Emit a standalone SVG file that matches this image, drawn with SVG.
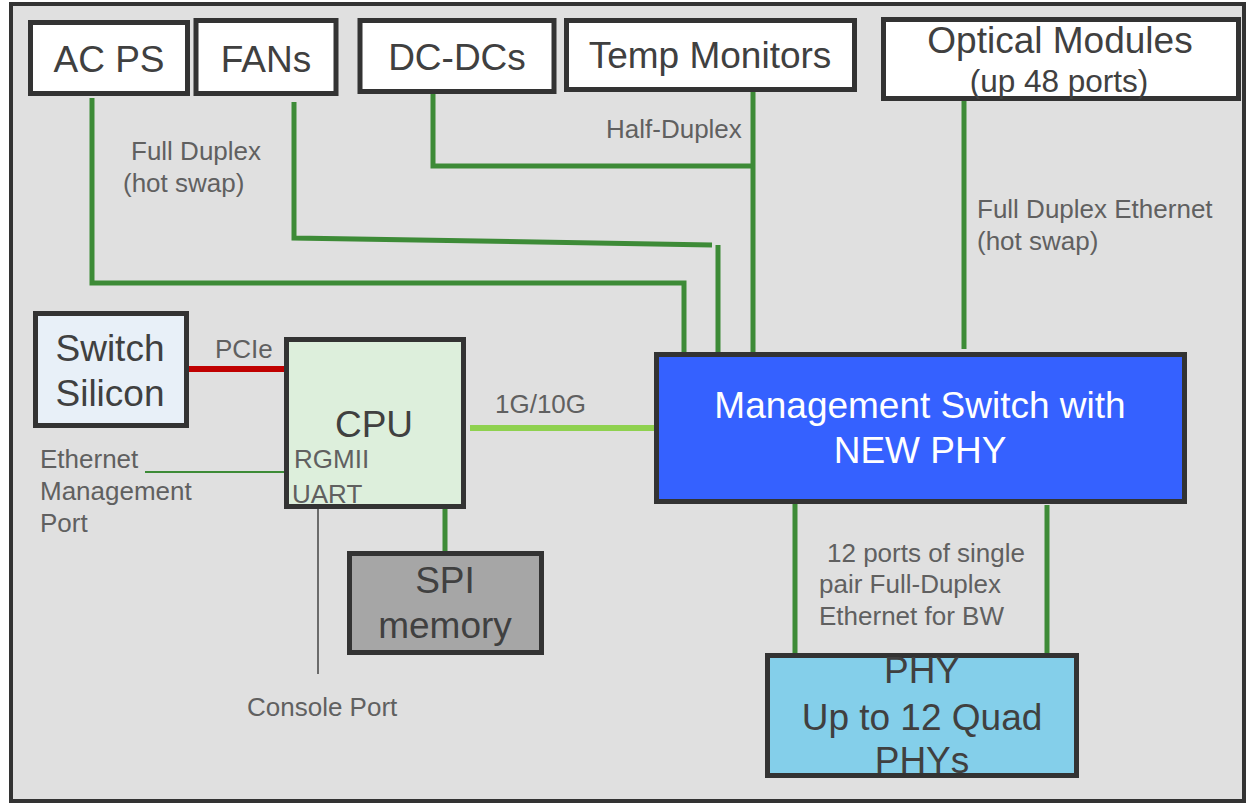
<svg xmlns="http://www.w3.org/2000/svg" width="1249" height="804" viewBox="0 0 1249 804">
<style>
.box{stroke:#333;stroke-width:5}
.big{font-family:"Liberation Sans",Arial,sans-serif;font-size:37px;fill:#404040;text-anchor:middle}
.lbl{font-family:"Liberation Sans",Arial,sans-serif;font-size:26px;fill:#606060}
.g{fill:none;stroke:#3d8b37;stroke-width:5}
</style>
<rect x="11" y="4" width="1233" height="797" fill="#e0e0e0" stroke="#333" stroke-width="4"/>
<g id="connectors">
<polyline class="g" points="92,98 92,283 684,283 684,352"/>
<polyline class="g" points="294,102 294,238 712,245"/>
<line class="g" x1="718" y1="245" x2="718" y2="352"/>
<polyline class="g" points="433,93 433,166 753,166"/>
<line class="g" x1="753" y1="92" x2="753" y2="352"/>
<line class="g" x1="964" y1="100" x2="964" y2="349"/>
<line x1="189" y1="369" x2="286" y2="369" stroke="#c00000" stroke-width="6"/>
<line x1="470" y1="428" x2="654" y2="428" stroke="#8fd14f" stroke-width="6"/>
<line x1="145" y1="472" x2="284" y2="472" stroke="#3d8b37" stroke-width="2"/>
<line x1="318" y1="508" x2="318" y2="674" stroke="#444" stroke-width="1.5"/>
<line class="g" x1="445" y1="509" x2="445" y2="551"/>
<line class="g" x1="795" y1="504" x2="795" y2="653"/>
<line class="g" x1="1047" y1="505" x2="1047" y2="657"/>
</g>
<g id="labels">
<text class="lbl" x="131" y="160">Full Duplex</text>
<text class="lbl" x="123" y="192">(hot swap)</text>
<text class="lbl" x="606" y="138">Half-Duplex</text>
<text class="lbl" x="977" y="218">Full Duplex Ethernet</text>
<text class="lbl" x="977" y="250">(hot swap)</text>
<text class="lbl" x="215" y="358">PCIe</text>
<text class="lbl" x="495" y="413">1G/10G</text>
<text class="lbl" x="40" y="468">Ethernet</text>
<text class="lbl" x="40" y="500">Management</text>
<text class="lbl" x="40" y="532">Port</text>
<text class="lbl" x="247" y="716">Console Port</text>
<text class="lbl" x="827" y="562">12 ports of single</text>
<text class="lbl" x="819" y="593">pair Full-Duplex</text>
<text class="lbl" x="819" y="625">Ethernet for BW</text>
</g>
<g id="acps"><rect class="box" x="30.5" y="22.5" width="157" height="71" fill="#fff"/><text class="big" x="109" y="72">AC PS</text></g>
<g id="fans"><rect class="box" x="196" y="20.5" width="140" height="73" fill="#fff"/><text class="big" x="266" y="72">FANs</text></g>
<g id="dcdcs"><rect class="box" x="360" y="20.5" width="194" height="71" fill="#fff"/><text class="big" x="457" y="70">DC-DCs</text></g>
<g id="temp"><rect class="box" x="566.5" y="20.5" width="288" height="69" fill="#fff"/><text class="big" x="710" y="68">Temp Monitors</text></g>
<g id="optical"><rect class="box" x="883.5" y="19.5" width="355" height="79" fill="#fff"/><text class="big" x="1060" y="53">Optical Modules</text><text class="big" x="1059" y="92" style="font-size:31.5px">(up 48 ports)</text></g>
<g id="switchsilicon"><rect class="box" x="35.5" y="313.5" width="151" height="112" fill="#e8f0f8" stroke-width="4"/><text class="big" x="110" y="361">Switch</text><text class="big" x="110" y="406">Silicon</text></g>
<g id="cpu"><rect class="box" x="286.5" y="339.5" width="177" height="167" fill="#ddefdc"/><text class="big" x="374" y="437">CPU</text><text class="lbl" x="294" y="468">RGMII</text><text class="lbl" x="292" y="503">UART</text></g>
<g id="spi"><rect class="box" x="349.5" y="553.5" width="192" height="99" fill="#a6a6a6"/><text class="big" x="445" y="593">SPI</text><text class="big" x="445" y="638">memory</text></g>
<g id="mgmt"><rect class="box" x="656.5" y="354.5" width="528" height="147" fill="#3561ff"/><text class="big" x="920" y="418" style="fill:#fff">Management Switch with</text><text class="big" x="920" y="463" style="fill:#fff">NEW PHY</text></g>
<g id="phy"><rect class="box" x="767.5" y="655.5" width="309" height="120" fill="#84cfea"/><text class="big" x="922" y="683">PHY</text><text class="big" x="922" y="730">Up to 12 Quad</text><text class="big" x="922" y="773">PHYs</text></g>
</svg>
